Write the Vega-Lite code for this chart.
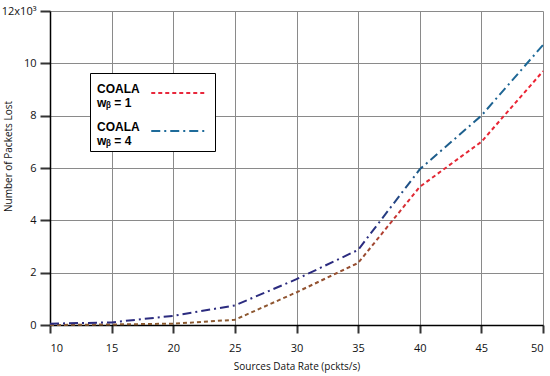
{
  "$schema": "https://vega.github.io/schema/vega-lite/v6.json",
  "width": 493,
  "height": 314,
  "autosize": {"type": "none"},
  "padding": {"left": 50, "top": 11, "right": 7, "bottom": 51},
  "background": "white",
  "data": {
    "values": [
      {"rate": 10, "lost": 0.0, "series": "w1"},
      {"rate": 15, "lost": 0.02, "series": "w1"},
      {"rate": 20, "lost": 0.05, "series": "w1"},
      {"rate": 25, "lost": 0.2, "series": "w1"},
      {"rate": 30, "lost": 1.25, "series": "w1"},
      {"rate": 35, "lost": 2.37, "series": "w1"},
      {"rate": 40, "lost": 5.28, "series": "w1"},
      {"rate": 45, "lost": 7.0, "series": "w1"},
      {"rate": 50, "lost": 9.7, "series": "w1"},
      {"rate": 10, "lost": 0.05, "series": "w4"},
      {"rate": 15, "lost": 0.1, "series": "w4"},
      {"rate": 20, "lost": 0.35, "series": "w4"},
      {"rate": 25, "lost": 0.75, "series": "w4"},
      {"rate": 30, "lost": 1.75, "series": "w4"},
      {"rate": 35, "lost": 2.87, "series": "w4"},
      {"rate": 40, "lost": 5.95, "series": "w4"},
      {"rate": 45, "lost": 8.0, "series": "w4"},
      {"rate": 50, "lost": 10.7, "series": "w4"}
    ]
  },
  "config": {
    "view": {"stroke": null},
    "font": "Open Sans",
    "axis": {
      "gridColor": "#8a8a8a",
      "gridWidth": 1,
      "gridOpacity": 1,
      "domainColor": "#000",
      "domainWidth": 1.5,
      "labelColor": "#111",
      "labelFontSize": 11,
      "titleFontSize": 10,
      "titleFontWeight": "normal",
      "titleColor": "#111",
      "labelFont": "Open Sans",
      "titleFont": "Open Sans"
    }
  },
  "encoding": {
    "x": {
      "field": "rate",
      "type": "quantitative",
      "scale": {"domain": [10, 50], "nice": false},
      "axis": {
        "title": "Sources Data Rate (pckts/s)",
        "values": [10, 15, 20, 25, 30, 35, 40, 45, 50],
        "ticks": true,
        "tickColor": "#333",
        "tickWidth": 2,
        "tickOpacity": 1,
        "tickSize": 8,
        "labelPadding": 9,
        "titlePadding": 8
      }
    },
    "y": {
      "field": "lost",
      "type": "quantitative",
      "scale": {"domain": [0, 12], "nice": false},
      "axis": {
        "title": "Number of Packets Lost",
        "values": [0, 2, 4, 6, 8, 10, 12],
        "ticks": true,
        "tickColor": "#333",
        "tickWidth": 2,
        "tickOpacity": 1,
        "tickSize": 10,
        "labelPadding": 4,
        "titleX": -42,
        "titleY": 145,
        "titleAlign": "center",
        "titleBaseline": "middle",
        "titleAngle": 270,
        "labelExpr": "datum.value == 12 ? '12x10³' : datum.label"
      }
    },
    "strokeDash": {
      "field": "series",
      "type": "nominal",
      "scale": {"domain": ["w1", "w4"], "range": [[4, 3], [9, 4, 2, 4]]},
      "legend": {
        "title": null,
        "orient": "none",
        "legendX": 40,
        "legendY": 62,
        "direction": "vertical",
        "symbolType": "M-1.85,0L1.85,0",
        "symbolSize": 900,
        "symbolStrokeWidth": 2,
        "symbolOpacity": 1,
        "symbolOffset": 69,
        "labelOffset": -98,
        "strokeColor": "#000",
        "fillColor": "white",
        "padding": 4,
        "rowPadding": 6,
        "labelFont": "Liberation Sans",
        "labelFontWeight": "bold",
        "labelFontSize": 12,
        "labelLineHeight": 15,
        "labelBaseline": "alphabetic",
        "labelColor": "#000",
        "labelExpr": "datum.value == 'w1' ? ['COALA', 'wᵦ = 1'] : ['COALA', 'wᵦ = 4']",
        "encode": {"legend": {"strokeWidth": {"value": 2}}}
      }
    }
  },
  "layer": [
    {
      "transform": [{"filter": "datum.series == 'w1'"}],
      "mark": {
        "type": "line",
        "strokeWidth": 2,
        "color": {"gradient": "linear", "x1": 0, "y1": 1, "x2": 0, "y2": 0,
          "stops": [{"offset": 0, "color": "#8a5a30"}, {"offset": 0.3, "color": "#9a4a30"}, {"offset": 0.5, "color": "#e02a35"}, {"offset": 1, "color": "#ee2233"}]}
      }
    },
    {
      "transform": [{"filter": "datum.series == 'w4'"}],
      "mark": {
        "type": "line",
        "strokeWidth": 2,
        "color": {"gradient": "linear", "x1": 0, "y1": 1, "x2": 0, "y2": 0,
          "stops": [{"offset": 0, "color": "#2b2b7f"}, {"offset": 0.3, "color": "#2b2b7f"}, {"offset": 0.55, "color": "#1d5a88"}, {"offset": 1, "color": "#1e6b9a"}]}
      }
    },
    {
      "mark": {"type": "line", "strokeWidth": 2, "opacity": 0},
      "encoding": {
        "color": {
          "field": "series",
          "type": "nominal",
          "scale": {"domain": ["w1", "w4"], "range": ["#e8283c", "#1e6b9a"]},
          "legend": null
        }
      }
    }
  ]
}
